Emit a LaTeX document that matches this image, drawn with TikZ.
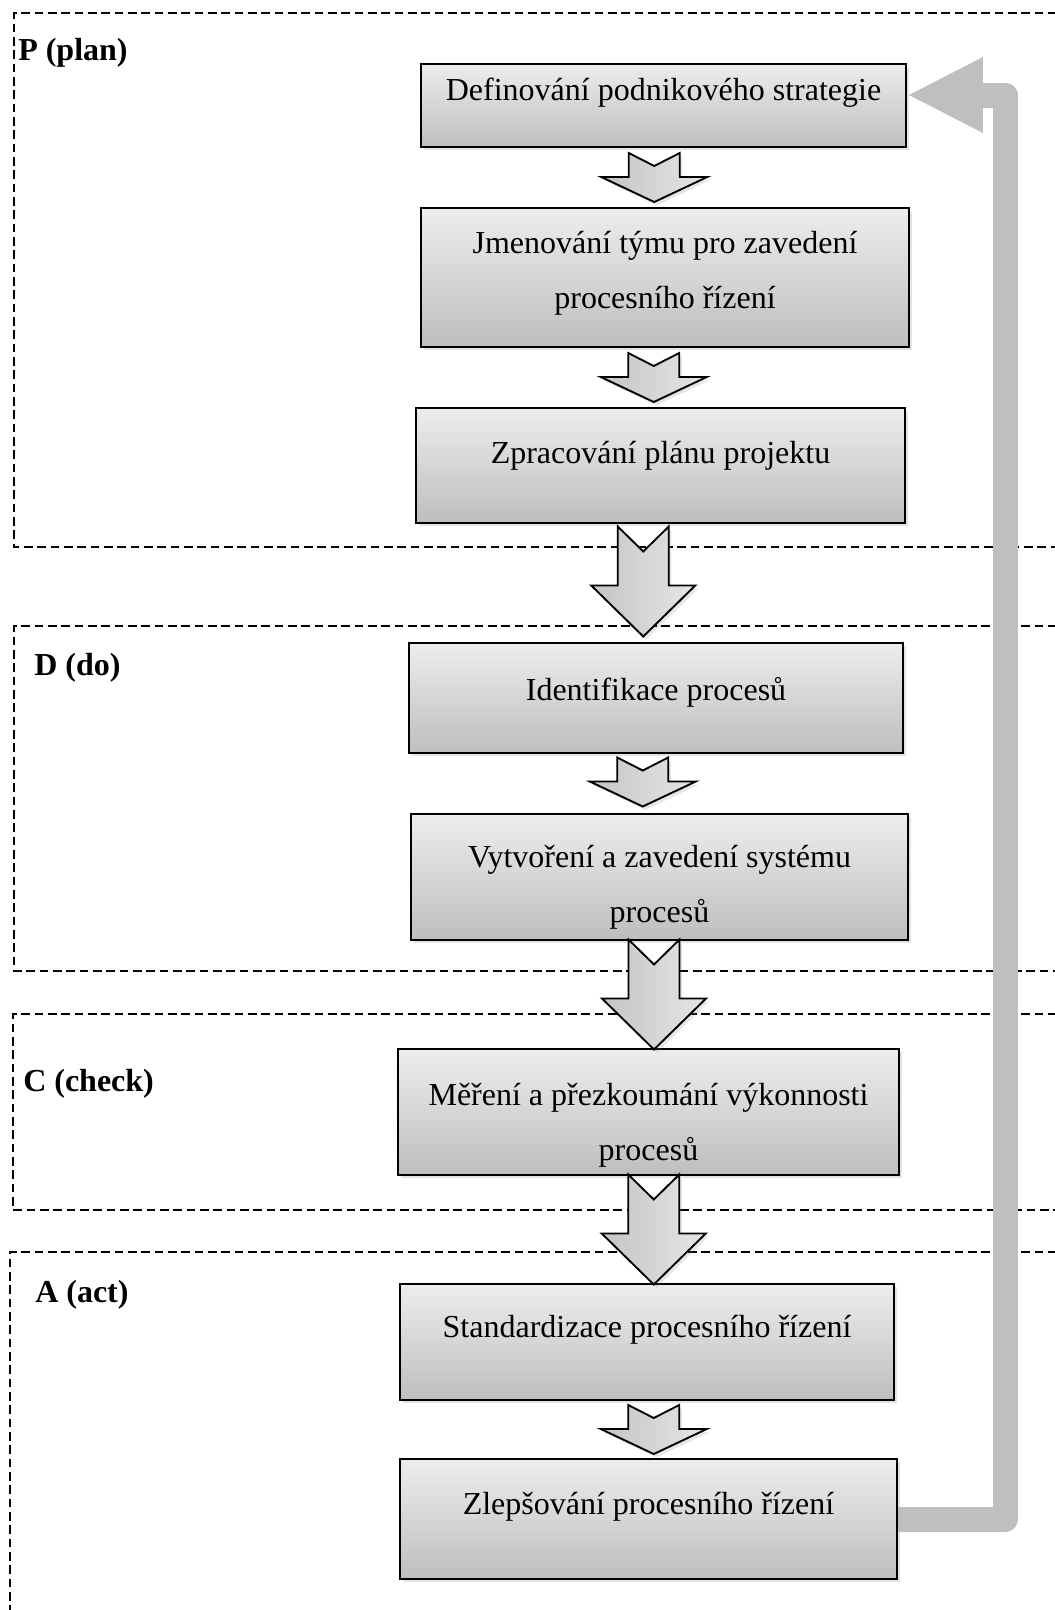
\documentclass[tikz,border=0pt]{standalone}
\usepackage{fontspec}
\setmainfont{Liberation Serif}
\usetikzlibrary{shadows,calc}
\definecolor{boxtop}{RGB}{237,237,237}
\definecolor{boxbot}{RGB}{190,190,190}
\definecolor{arrdark}{RGB}{196,196,196}
\definecolor{arrlight}{RGB}{230,230,230}
\definecolor{fbgray}{RGB}{191,191,191}
\begin{document}
\begin{tikzpicture}[x=0.75pt,y=-0.75pt,
  stagebox/.style={draw=black, line width=1.4pt, top color=boxtop, bottom color=boxbot, inner sep=0pt,
    drop shadow={shadow xshift=2pt, shadow yshift=-2.5pt, opacity=0.22}},
  boxtext/.style={inner sep=0pt, anchor=base, font=\fontsize{24}{41.25}\selectfont},
  phase/.style={inner sep=0pt, anchor=base west, font=\fontsize{24}{28}\selectfont\bfseries},
  region/.style={draw=black, dash pattern=on 6.5pt off 3.5pt, line width=1.25pt},
  blockarrow/.style={draw=black, line width=1.4pt, left color=arrdark, right color=arrlight, line join=miter,
    drop shadow={shadow xshift=2pt, shadow yshift=-2.5pt, opacity=0.2}},
  feedback/.style={draw=fbgray, line width=18.75pt, line join=round},
  smallarrow/.pic={\path[blockarrow] (-25.5,-24.5) -- (0,-11.5) -- (25.5,-24.5) -- (25.5,-0.5) -- (53,-0.5) -- (0,24.5) -- (-53,-0.5) -- (-25.5,-0.5) -- cycle;},
  bigarrow/.pic={\path[blockarrow] (-25.5,-55) -- (0,-30) -- (25.5,-55) -- (25.5,4) -- (52,4) -- (0,55) -- (-52,4) -- (-25.5,4) -- cycle;}
]
\useasboundingbox (0,0) rectangle (1055,1610);
\clip (0,0) rectangle (1055,1610);

% phase regions
\draw[region] (1070,13) -- (14,13) -- (14,547) -- (1070,547);
\draw[region] (1070,626) -- (14,626) -- (14,971) -- (1070,971);
\draw[region] (1070,1014) -- (13,1014) -- (13,1210) -- (1070,1210);
\draw[region] (1070,1252) -- (10,1252) -- (10,1625);

% phase labels
\node[phase] (lp) at (18,60) {P (plan)};
\node[phase] (ld) at (34,675) {D (do)};
\node[phase] (lc) at (23,1091) {C (check)};
\node[phase] (la) at (35,1302) {A (act)};

% boxes
\node[stagebox, minimum width=363.75pt, minimum height=62.25pt] (b1) at (663.5,105.5) {};
\node[stagebox, minimum width=366pt, minimum height=104.25pt] (b2) at (665,277.5) {};
\node[stagebox, minimum width=366.75pt, minimum height=86.25pt] (b3) at (660.5,465.5) {};
\node[stagebox, minimum width=370.5pt, minimum height=82.5pt] (b4) at (656,698) {};
\node[stagebox, minimum width=372.75pt, minimum height=94.5pt] (b5) at (659.5,877) {};
\node[stagebox, minimum width=375.75pt, minimum height=94.5pt] (b6) at (648.5,1112) {};
\node[stagebox, minimum width=370.5pt, minimum height=87pt] (b7) at (647,1342) {};
\node[stagebox, minimum width=372.75pt, minimum height=90pt] (b8) at (648.5,1519) {};

% texts
\node[boxtext] (t1) at (663.5,100) {Definování podnikového strategie};
\node[boxtext] (t2) at (665,253) {\begin{tabular}[t]{@{}c@{}}Jmenování týmu pro zavedení\\procesního řízení\end{tabular}};
\node[boxtext] (t3) at (660.5,463) {Zpracování plánu projektu};
\node[boxtext] (t4) at (656,700) {Identifikace procesů};
\node[boxtext] (t5) at (659.5,867) {\begin{tabular}[t]{@{}c@{}}Vytvoření a zavedení systému\\procesů\end{tabular}};
\node[boxtext] (t6) at (648.5,1105) {\begin{tabular}[t]{@{}c@{}}Měření a přezkoumání výkonnosti\\procesů\end{tabular}};
\node[boxtext] (t7) at (647,1337) {Standardizace procesního řízení};
\node[boxtext] (t8) at (648.5,1514) {Zlepšování procesního řízení};

% block arrows between boxes
\pic (a1) at ($(b1.south)!0.5!(b2.north)+(-10,0)$) {smallarrow};
\pic (a2) at ($(b2.south)!0.5!(b3.north)+(-9,0)$) {smallarrow};
\pic (a3) at ($(b3.south)!0.5!(b4.north)+(-15,-1.5)$) {bigarrow};
\pic (a4) at ($(b4.south)!0.5!(b5.north)+(-15,-1.5)$) {smallarrow};
\pic (a5) at ($(b5.south)!0.5!(b6.north)+(0,0)$) {bigarrow};
\pic (a6) at ($(b6.south)!0.5!(b7.north)+(6,0)$) {bigarrow};
\pic (a7) at ($(b7.south)!0.5!(b8.north)+(6,0)$) {smallarrow};

% feedback arrow
\coordinate (fbtip) at ($(b1.east)+(2,-10.5)$);
\coordinate (fbcorner) at (1005.5,0);
\draw[feedback] (b8.east) -| (fbcorner |- fbtip) -- ($(fbtip)+(74,0)$);
\fill[fbgray] (fbtip) -- ($(fbtip)+(74,-38)$) -- ($(fbtip)+(74,38)$) -- cycle;
\end{tikzpicture}
\end{document}
